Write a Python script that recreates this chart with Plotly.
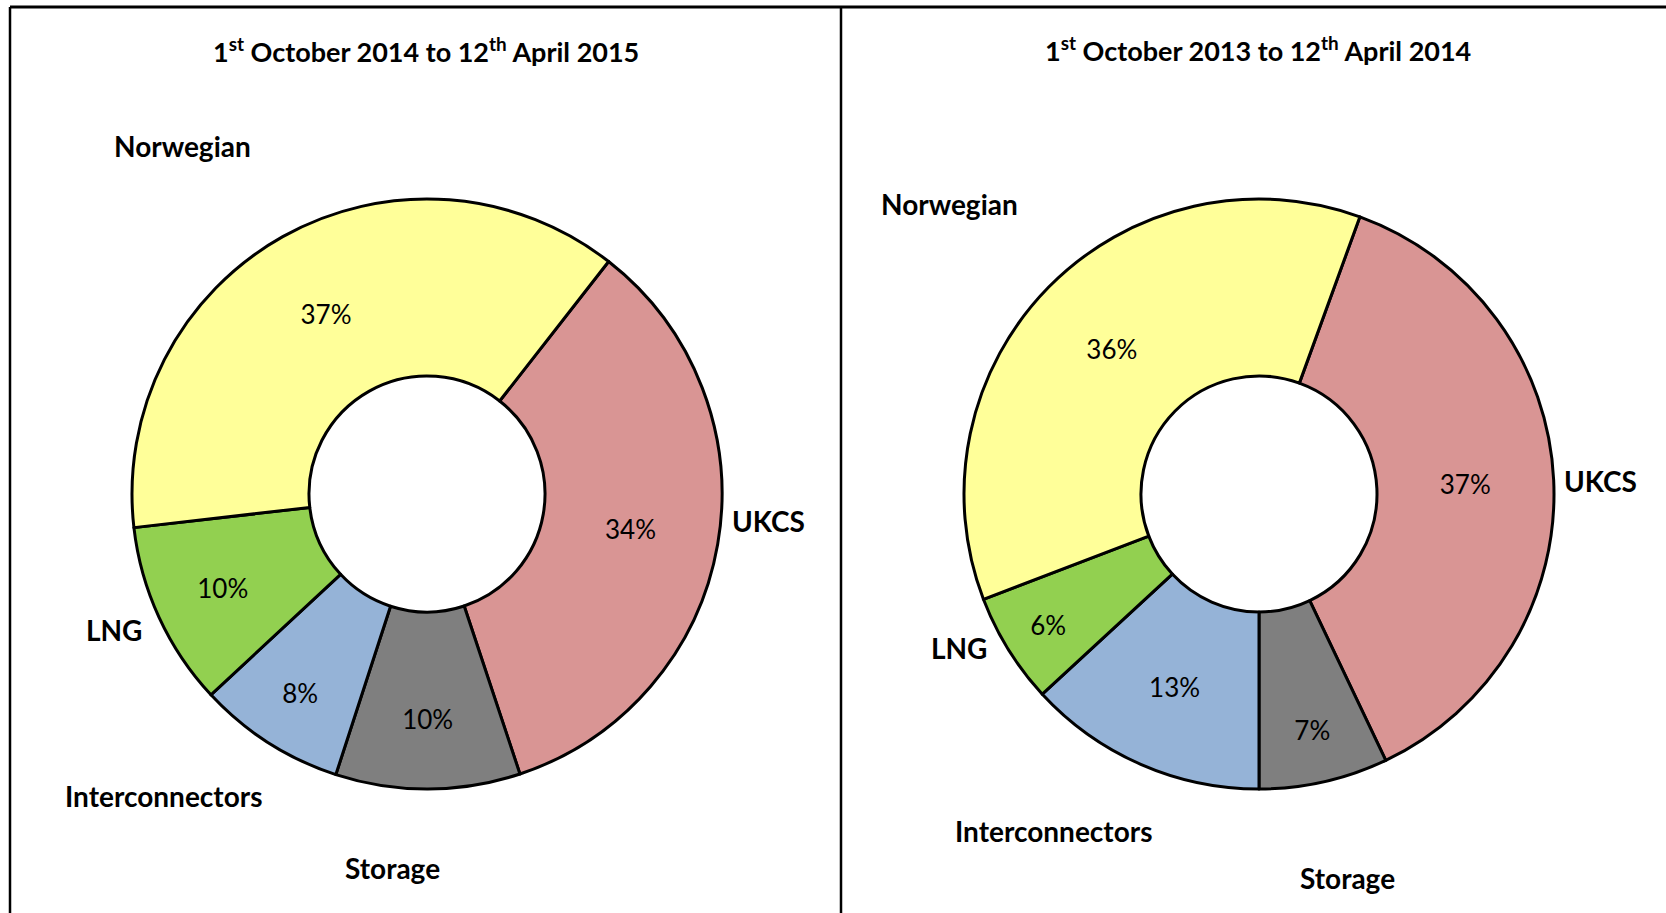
import plotly.graph_objects as go

# ---- data ----
categories = ["UKCS", "Storage", "Interconnectors", "LNG", "Norwegian"]
values_2014_15 = [34, 10, 8, 10, 37]
values_2013_14 = [37, 7, 13, 6, 36]
titles = ["1<sup>st</sup> October 2014 to 12<sup>th</sup> April 2015",
          "1<sup>st</sup> October 2013 to 12<sup>th</sup> April 2014"]
colors = ["#D99594", "#7F7F7F", "#95B3D7", "#92D050", "#FFFF99"]

W, H = 1666, 913
FONT = "Lato, Liberation Sans, sans-serif"

def px(x):
    return x / W

def py(y):
    return 1 - y / H

fig = go.Figure()

R = 295
pies = [
    dict(values=values_2014_15, cx=427, cy=494, rot=38),
    dict(values=values_2013_14, cx=1259, cy=494, rot=20),
]
for p in pies:
    fig.add_trace(go.Pie(
        labels=categories,
        values=p["values"],
        sort=False,
        direction="clockwise",
        rotation=p["rot"],
        hole=0.4,
        marker=dict(colors=colors, line=dict(color="black", width=3)),
        texttemplate="%{value}%",
        textposition="inside",
        insidetextorientation="horizontal",
        textfont=dict(family=FONT, size=26, color="black"),
        domain=dict(x=[px(p["cx"] - R), px(p["cx"] + R)],
                    y=[py(p["cy"] + R), py(p["cy"] - R)]),
        showlegend=False,
        hoverinfo="label+value",
    ))

annotations = []
# titles
for t, (x, y) in zip(titles, [(426, 50), (1258, 49)]):
    annotations.append(dict(text="<b>" + t + "</b>", x=px(x), y=py(y),
                            xref="paper", yref="paper", showarrow=False,
                            xanchor="center", yanchor="middle",
                            font=dict(family=FONT, size=27, color="black")))
# category labels
label_pos = [
    {"Norwegian": (182, 146), "UKCS": (768, 521), "LNG": (114, 630),
     "Interconnectors": (163, 796), "Storage": (392, 868)},
    {"Norwegian": (949, 204), "UKCS": (1600, 481), "LNG": (959, 648),
     "Interconnectors": (1053, 831), "Storage": (1347, 878)},
]
for lp in label_pos:
    for name, (x, y) in lp.items():
        annotations.append(dict(text="<b>" + name + "</b>", x=px(x), y=py(y),
                                xref="paper", yref="paper", showarrow=False,
                                xanchor="center", yanchor="middle",
                                font=dict(family=FONT, size=28, color="black")))

shapes = [
    dict(type="line", xref="paper", yref="paper", x0=px(10), x1=1.0, y0=py(7), y1=py(7),
         line=dict(color="black", width=3)),
    dict(type="line", xref="paper", yref="paper", x0=px(10), x1=px(10), y0=py(7), y1=0,
         line=dict(color="black", width=2.5)),
    dict(type="line", xref="paper", yref="paper", x0=px(841), x1=px(841), y0=py(7), y1=0,
         line=dict(color="black", width=2.5)),
]

fig.update_layout(
    width=W, height=H,
    margin=dict(l=0, r=0, t=0, b=0),
    paper_bgcolor="white", plot_bgcolor="white",
    annotations=annotations,
    shapes=shapes,
)

fig.write_html("out.html", config={"displayModeBar": False},
               post_script="document.body.style.margin='0px';")
